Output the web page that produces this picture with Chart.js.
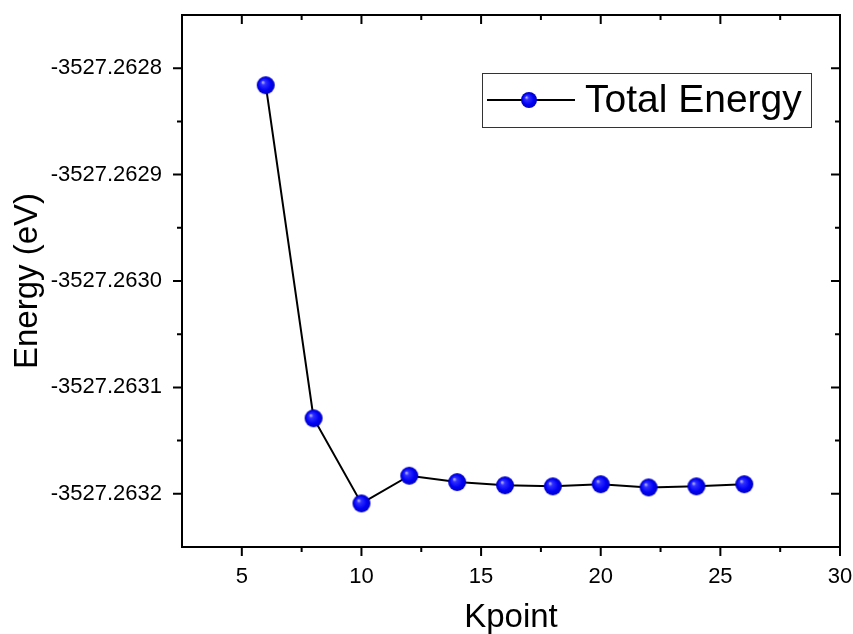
<!DOCTYPE html>
<html>
<head>
<meta charset="utf-8">
<script src="https://cdn.jsdelivr.net/npm/chart.js@4.4.0/dist/chart.umd.min.js"></script>
<style>
  html, body { margin: 0; padding: 0; background: #fff; }
  canvas { display: block; }
</style>
</head>
<body>
<canvas id="energyChart" width="853" height="634"></canvas>
<script>
// k-point convergence test
const kpoints = [6, 8, 10, 12, 14, 16, 18, 20, 22, 24, 26];
const totalEnergy = [
    -3527.262816, -3527.263129, -3527.263209, -3527.263183, -3527.263189,
    -3527.263192, -3527.263193, -3527.263191, -3527.263194, -3527.263193, -3527.263191
];
const xTicks = [5, 10, 15, 20, 25, 30];
const yTicks = [-3527.2632, -3527.2631, -3527.2630, -3527.2629, -3527.2628];
const seriesLabel = 'Total Energy';

const FONT = '"Liberation Sans", Arial, sans-serif';

// blue shaded ball used as marker
function makeBall(r) {
    const c = document.createElement('canvas');
    c.width = r * 2 + 2;
    c.height = r * 2 + 2;
    const g = c.getContext('2d');
    const cx = r + 1, cy = r + 1;
    const grad = g.createRadialGradient(cx - r * 0.35, cy - r * 0.35, 0, cx, cy, r);
    grad.addColorStop(0, '#d0d0ff');
    grad.addColorStop(0.25, '#3030ff');
    grad.addColorStop(0.7, '#0000f5');
    grad.addColorStop(1, '#0000c0');
    g.fillStyle = grad;
    g.beginPath();
    g.arc(cx, cy, r, 0, Math.PI * 2);
    g.fill();
    return c;
}
const ball = makeBall(9);
const legendBall = makeBall(8);

// frame, origin-style ticks and legend box
const framePlugin = {
    id: 'frame',
    afterDatasetsDraw(chart) {
        const { ctx, chartArea: a, scales } = chart;
        const xs = scales.x, ys = scales.y;
        ctx.save();
        ctx.strokeStyle = '#000';
        ctx.lineWidth = 2;
        ctx.strokeRect(a.left, a.top, a.right - a.left, a.bottom - a.top);

        ctx.beginPath();
        xTicks.forEach(v => {
            const px = xs.getPixelForValue(v);
            ctx.moveTo(px, a.bottom); ctx.lineTo(px, a.bottom + 9);
            ctx.moveTo(px, a.top); ctx.lineTo(px, a.top + 9);
            const m = xs.getPixelForValue(v - 2.5);
            if (m >= a.left + 1) {
                ctx.moveTo(m, a.bottom); ctx.lineTo(m, a.bottom + 5);
                ctx.moveTo(m, a.top); ctx.lineTo(m, a.top + 5);
            }
        });
        yTicks.forEach(v => {
            const py = ys.getPixelForValue(v);
            ctx.moveTo(a.left, py); ctx.lineTo(a.left - 9, py);
            ctx.moveTo(a.right, py); ctx.lineTo(a.right - 9, py);
        });
        for (let i = 0; i < yTicks.length + 1; i++) {
            const v = yTicks[0] - 0.00005 + i * 0.0001;
            const py = ys.getPixelForValue(v);
            if (py > a.top + 1 && py < a.bottom - 1) {
                ctx.moveTo(a.left, py); ctx.lineTo(a.left - 5, py);
                ctx.moveTo(a.right, py); ctx.lineTo(a.right - 5, py);
            }
        }
        ctx.stroke();

        // legend
        ctx.lineWidth = 1;
        ctx.strokeStyle = '#333';
        ctx.fillStyle = '#fff';
        ctx.fillRect(482, 73, 329, 54);
        ctx.strokeRect(482.5, 73.5, 329, 54);
        ctx.strokeStyle = '#000';
        ctx.lineWidth = 2;
        ctx.beginPath();
        ctx.moveTo(487, 100); ctx.lineTo(575, 100);
        ctx.stroke();
        ctx.drawImage(legendBall, 529 - legendBall.width / 2, 100 - legendBall.height / 2);
        ctx.fillStyle = '#000';
        ctx.font = '39px ' + FONT;
        ctx.textBaseline = 'middle';
        ctx.fillText(seriesLabel, 585, 101);
        ctx.restore();
    }
};

new Chart(document.getElementById('energyChart'), {
    type: 'line',
    plugins: [framePlugin],
    data: {
        labels: kpoints,
        datasets: [{
            label: seriesLabel,
            data: kpoints.map((k, i) => ({ x: k, y: totalEnergy[i] })),
            borderColor: '#000',
            borderWidth: 2,
            pointStyle: ball,
            pointRadius: 9,
            tension: 0,
            fill: false,
            clip: false
        }]
    },
    options: {
        responsive: false,
        animation: false,
        events: [],
        layout: { padding: { top: 15, right: 13, left: 0, bottom: 0 } },
        plugins: {
            legend: { display: false },
            tooltip: { enabled: false }
        },
        scales: {
            x: {
                type: 'linear',
                min: 2.5,
                max: 30,
                afterBuildTicks: scale => { scale.ticks = xTicks.map(v => ({ value: v })); },
                afterFit: scale => {
                    scale.height = 87;
                    scale.paddingLeft = 0;
                    scale.paddingRight = 0;
                },
                grid: { display: false },
                border: { display: false },
                ticks: {
                    font: { family: FONT, size: 22 },
                    color: '#000',
                    padding: 9,
                    maxRotation: 0
                },
                title: {
                    display: true,
                    text: 'Kpoint',
                    color: '#000',
                    font: { family: FONT, size: 33, lineHeight: 1 },
                    padding: { top: 0, bottom: 0 }
                }
            },
            y: {
                type: 'linear',
                min: -3527.26325,
                max: -3527.26275,
                afterBuildTicks: scale => { scale.ticks = yTicks.map(v => ({ value: v })); },
                afterFit: scale => {
                    scale.width = 182;
                    scale.paddingTop = 0;
                    scale.paddingBottom = 0;
                },
                grid: { display: false },
                border: { display: false },
                ticks: {
                    font: { family: FONT, size: 22 },
                    color: '#000',
                    padding: 12,
                    callback: v => v.toFixed(4)
                },
                title: {
                    display: true,
                    text: 'Energy (eV)',
                    color: '#000',
                    font: { family: FONT, size: 33, lineHeight: 1 },
                    padding: { top: 11, bottom: 0 }
                }
            }
        }
    }
});
</script>
</body>
</html>
